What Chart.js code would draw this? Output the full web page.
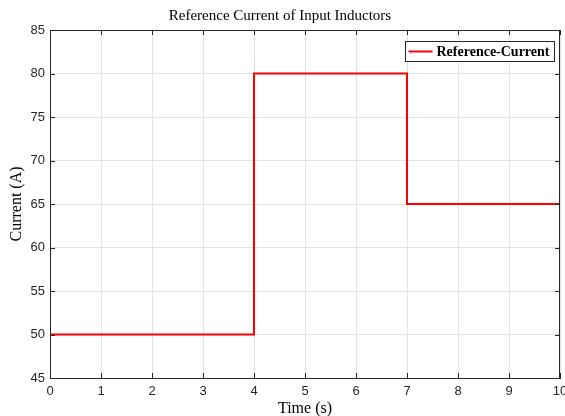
<!DOCTYPE html>
<html>
<head>
<meta charset="utf-8">
<script src="https://cdn.jsdelivr.net/npm/chart.js@4/dist/chart.umd.min.js"></script>
<style>
  html, body { margin: 0; padding: 0; background: #fff; }
  #wrap { width: 565px; height: 416px; }
</style>
</head>
<body>
<div id="wrap"><canvas id="refChart" width="565" height="416"></canvas></div>
<script>
// --- chart data ---
const timeSec = [0, 4, 4, 7, 7, 10];
const currentA = [50, 50, 80, 80, 65, 65];
const xTicks = [0, 1, 2, 3, 4, 5, 6, 7, 8, 9, 10];
const yTicks = [45, 50, 55, 60, 65, 70, 75, 80, 85];
const seriesName = 'Reference-Current';

const axisColor = '#262626';
const serif = '"Liberation Serif", "Times New Roman", serif';
const sans = '"Liberation Sans", Arial, sans-serif';

// inward tick marks, box on the top/right, and the boxed legend (MATLAB look)
const matlabBox = {
    id: 'matlabBox',
    afterDraw(chart) {
        const { ctx, chartArea: a, scales } = chart;
        const len = 5;
        ctx.save();
        ctx.strokeStyle = axisColor;
        ctx.lineWidth = 1;
        ctx.beginPath();
        xTicks.forEach(v => {
            const x = Math.round(scales.x.getPixelForValue(v)) + 0.5;
            ctx.moveTo(x, a.bottom); ctx.lineTo(x, a.bottom - len);
            ctx.moveTo(x, a.top); ctx.lineTo(x, a.top + len);
        });
        yTicks.forEach(v => {
            const y = Math.round(scales.y.getPixelForValue(v)) + 0.5;
            ctx.moveTo(a.left, y); ctx.lineTo(a.left + len, y);
            ctx.moveTo(a.right, y); ctx.lineTo(a.right - len, y);
        });
        ctx.moveTo(a.left, a.top + 0.5); ctx.lineTo(a.right, a.top + 0.5);
        ctx.moveTo(a.right - 0.5, a.top); ctx.lineTo(a.right - 0.5, a.bottom);
        ctx.stroke();

        // legend
        ctx.font = 'bold 14px ' + serif;
        const tw = ctx.measureText(seriesName).width;
        const boxW = tw + 36, boxH = 20;
        const bx = Math.round(a.right - 6 - boxW) + 0.5, by = Math.round(a.top + 11) + 0.5;
        ctx.fillStyle = '#fff';
        ctx.fillRect(bx, by, boxW, boxH);
        ctx.strokeRect(bx, by, boxW, boxH);
        ctx.strokeStyle = '#ff0000';
        ctx.lineWidth = 2;
        ctx.beginPath();
        ctx.moveTo(bx + 3, by + boxH / 2); ctx.lineTo(bx + 27, by + boxH / 2);
        ctx.stroke();
        ctx.fillStyle = '#000';
        ctx.textBaseline = 'middle';
        ctx.fillText(seriesName, bx + 31, by + boxH / 2 + 1);
        ctx.restore();
    }
};

new Chart(document.getElementById('refChart'), {
    type: 'line',
    data: {
        labels: timeSec,
        datasets: [{
            label: seriesName,
            data: timeSec.map((t, i) => ({ x: t, y: currentA[i] })),
            borderColor: '#ff0000',
            borderWidth: 2,
            pointRadius: 0,
            tension: 0,
            fill: false
        }]
    },
    options: {
        responsive: false,
        animation: false,
        layout: { padding: { left: 0, right: 5, top: 0, bottom: 0 } },
        plugins: {
            legend: { display: false },
            tooltip: { enabled: false },
            title: {
                display: true,
                text: 'Reference Current of Input Inductors',
                color: '#000',
                font: { family: serif, size: 15, weight: 'normal', lineHeight: 1.2 },
                padding: { top: 7.5, bottom: 4.5 }
            }
        },
        scales: {
            x: {
                type: 'linear',
                min: 0,
                max: 10,
                afterBuildTicks: s => { s.ticks = xTicks.map(v => ({ value: v })); },
                afterFit: s => { s.height = 38; s.paddingLeft = 0; s.paddingRight = 0; },
                ticks: { color: axisColor, font: { family: sans, size: 13 }, padding: 6, maxRotation: 0, autoSkip: false },
                grid: { color: '#e3e3e3', drawTicks: false },
                border: { color: axisColor, width: 1 },
                title: {
                    display: true,
                    text: 'Time (s)',
                    color: '#000',
                    font: { family: serif, size: 16, lineHeight: 1.2 },
                    padding: { top: 0, bottom: -2.6 }
                }
            },
            y: {
                min: 45,
                max: 85,
                afterBuildTicks: s => { s.ticks = yTicks.map(v => ({ value: v })); },
                afterFit: s => { s.width = 50; s.paddingTop = 0; s.paddingBottom = 0; },
                ticks: { color: axisColor, font: { family: sans, size: 13 }, padding: 5, autoSkip: false },
                grid: { color: '#e3e3e3', drawTicks: false },
                border: { color: axisColor, width: 1 },
                title: {
                    display: true,
                    text: 'Current (A)',
                    color: '#000',
                    font: { family: serif, size: 16, lineHeight: 1.2 },
                    padding: { top: 7.5, bottom: 0 }
                }
            }
        }
    },
    plugins: [matlabBox]
});
</script>
</body>
</html>
